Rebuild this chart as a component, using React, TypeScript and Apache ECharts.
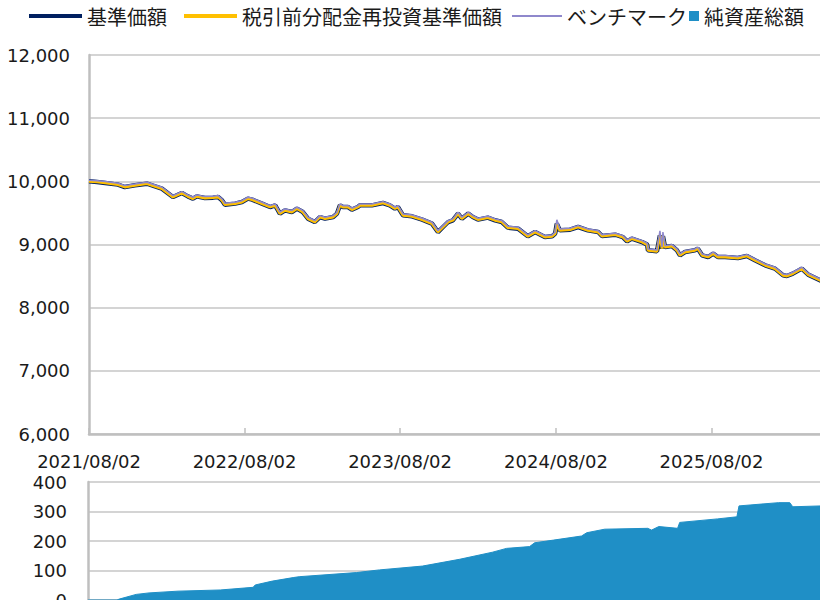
import React, { useEffect, useRef } from 'react';
import * as echarts from 'echarts';

// 基準価額 / 税引前分配金再投資基準価額 (same values, no distributions)
const dates = [
  '2021-08-02', '2021-08-21', '2021-09-09', '2021-10-09', '2021-10-25', '2021-11-18', '2021-12-16', '2021-12-28',
  '2022-01-20', '2022-02-15', '2022-03-08', '2022-03-22', '2022-04-03', '2022-04-12', '2022-05-01', '2022-05-20',
  '2022-06-01', '2022-06-10', '2022-06-17', '2022-07-11', '2022-07-27', '2022-08-10', '2022-08-20', '2022-09-12',
  '2022-10-01', '2022-10-13', '2022-10-24', '2022-11-05', '2022-11-21', '2022-12-03', '2022-12-17', '2022-12-29',
  '2023-01-14', '2023-01-26', '2023-02-07', '2023-02-26', '2023-03-07', '2023-03-14', '2023-03-21', '2023-04-02',
  '2023-04-11', '2023-04-25', '2023-04-30', '2023-05-28', '2023-06-23', '2023-07-09', '2023-07-21', '2023-07-28',
  '2023-08-09', '2023-08-30', '2023-09-23', '2023-10-16', '2023-10-30', '2023-11-11', '2023-11-23', '2023-12-04',
  '2023-12-16', '2023-12-25', '2024-01-09', '2024-01-20', '2024-02-01', '2024-02-24', '2024-03-12', '2024-03-28',
  '2024-04-11', '2024-05-05', '2024-05-28', '2024-06-14', '2024-07-07', '2024-07-24', '2024-07-31', '2024-08-04',
  '2024-08-11', '2024-09-04', '2024-09-23', '2024-10-16', '2024-11-09', '2024-11-18', '2024-12-19', '2025-01-06',
  '2025-01-16', '2025-01-27', '2025-02-20', '2025-03-04', '2025-03-06', '2025-03-27', '2025-04-03', '2025-04-08',
  '2025-04-10', '2025-04-15', '2025-05-01', '2025-05-13', '2025-05-20', '2025-06-01', '2025-06-24', '2025-07-01',
  '2025-07-11', '2025-07-25', '2025-08-06', '2025-08-17', '2025-09-03', '2025-10-03', '2025-10-24', '2025-11-12',
  '2025-12-06', '2025-12-29', '2026-01-17', '2026-01-26', '2026-02-09', '2026-03-02', '2026-03-17', '2026-04-18',
];

const navValues = [
  10000, 9990, 9975, 9948, 9910, 9937, 9963, 9937,
  9884, 9751, 9815, 9762, 9726, 9762, 9736, 9742,
  9752, 9700, 9631, 9647, 9672, 9726, 9710, 9647,
  9593, 9620, 9489, 9541, 9514, 9568, 9514, 9409,
  9356, 9435, 9409, 9435, 9489, 9620, 9593, 9593,
  9552, 9593, 9620, 9620, 9657, 9620, 9568, 9593,
  9462, 9446, 9394, 9330, 9197, 9277, 9356, 9383,
  9489, 9409, 9489, 9435, 9394, 9425, 9383, 9356,
  9267, 9251, 9130, 9197, 9118, 9130, 9172, 9330,
  9224, 9235, 9277, 9224, 9197, 9134, 9156, 9118,
  9050, 9093, 9039, 8998, 8908, 8892, 9145, 8935,
  9130, 8960, 8976, 8908, 8829, 8881, 8908, 8935,
  8829, 8802, 8856, 8802, 8802, 8786, 8818, 8750,
  8670, 8618, 8512, 8501, 8539, 8618, 8523, 8420,
];

const benchmarkValues = [
  10018, 10010, 9997, 9970, 9932, 9959, 9985, 9959,
  9906, 9773, 9837, 9784, 9748, 9784, 9758, 9764,
  9774, 9722, 9653, 9669, 9694, 9748, 9732, 9669,
  9615, 9642, 9511, 9563, 9536, 9590, 9536, 9431,
  9378, 9457, 9431, 9457, 9511, 9642, 9615, 9615,
  9574, 9615, 9642, 9642, 9679, 9642, 9590, 9615,
  9484, 9468, 9416, 9352, 9219, 9299, 9378, 9405,
  9511, 9431, 9511, 9457, 9416, 9447, 9405, 9378,
  9289, 9273, 9152, 9219, 9140, 9152, 9194, 9392,
  9246, 9257, 9299, 9246, 9219, 9156, 9178, 9140,
  9072, 9115, 9061, 9020, 8930, 8914, 9217, 8957,
  9197, 8982, 8998, 8930, 8851, 8903, 8930, 8957,
  8851, 8824, 8878, 8824, 8824, 8808, 8840, 8772,
  8692, 8640, 8534, 8523, 8561, 8640, 8545, 8442,
];

// 純資産総額
const aumDates = [
  '2021-08-02', '2021-10-09', '2021-10-14', '2021-11-23', '2021-12-23', '2022-03-01', '2022-06-08', '2022-08-24',
  '2022-08-29', '2022-10-08', '2022-11-26', '2022-12-10', '2023-04-23', '2023-06-16', '2023-09-25', '2023-12-21',
  '2024-03-07', '2024-04-09', '2024-06-02', '2024-06-14', '2024-07-28', '2024-10-02', '2024-10-14', '2024-11-25',
  '2025-03-06', '2025-03-15', '2025-04-01', '2025-05-15', '2025-05-20', '2025-08-17', '2025-10-01', '2025-10-06',
  '2026-01-07', '2026-02-02', '2026-02-09', '2026-04-18',
];
const aumValues = [
  0, 0, 3, 19, 24, 30, 34, 43,
  51, 64, 76, 79, 93, 102, 115, 138,
  162, 175, 181, 194, 203, 217, 228, 240,
  243, 237, 249, 243, 263, 275, 282, 319,
  330, 330, 316, 319,
];

const xTickDates = ['2021-08-02', '2022-08-02', '2023-08-02', '2024-08-02', '2025-08-02'];
const xRange = ['2021-08-02', '2026-08-02'];

const legendNames = ['基準価額', '税引前分配金再投資基準価額', 'ベンチマーク', '純資産総額'];
const seriesColors = ['#002060', '#FFC000', '#8f88cc', '#1f8fc6'];

const toTs = (s: string) => {
  const [y, m, d] = s.split('-').map(Number);
  return new Date(y, m - 1, d).getTime();
};

export default function App() {
  const ref = useRef<HTMLDivElement>(null);

  useEffect(() => {
    if (!ref.current) return;
    const chart = echarts.init(ref.current, null, { renderer: 'svg' });
    const tickTs = xTickDates.map(toTs);
    const gridColor = '#c6c6c6';
    const axisColor = '#bfbfbf';
    const labelFont = { fontSize: 18, fontFamily: 'DejaVu Sans', color: '#1a1a1a' };
    const legendText = { fontSize: 20, fontFamily: 'Noto Sans CJK JP', color: '#1a1a1a' };

    const navData = dates.map((d, i) => [toTs(d), navValues[i]]);
    const benchData = dates.map((d, i) => [toTs(d), benchmarkValues[i]]);
    const aumData = aumDates.map((d, i) => [toTs(d), aumValues[i]]);

    const legendItem = (i: number, left: number, w: number, h: number) => ({
      data: [{ name: legendNames[i], icon: 'rect', itemStyle: { color: seriesColors[i] } }],
      left,
      top: 6,
      padding: 0,
      itemWidth: w,
      itemHeight: h,
      itemGap: 0,
      textStyle: legendText,
    });

    const option: any = {
      animation: false,
      backgroundColor: '#ffffff',
      legend: [
        legendItem(0, 29, 53, 4),
        legendItem(1, 184, 53, 4),
        legendItem(2, 512, 50, 2),
        legendItem(3, 689, 10, 10),
      ],
      grid: [
        { left: 89, right: 13, top: 55, height: 379 },
        { left: 88, right: 13, top: 482, height: 118 },
      ],
      xAxis: [
        {
          type: 'time',
          gridIndex: 0,
          min: toTs(xRange[0]),
          max: toTs(xRange[1]),
          axisLine: { show: true, lineStyle: { color: axisColor, width: 2.5 } },
          axisTick: { show: true, inside: true, length: 6, customValues: tickTs, lineStyle: { color: axisColor, width: 1.5 } },
          axisLabel: { ...labelFont, margin: 18, customValues: tickTs, formatter: '{yyyy}/{MM}/{dd}', hideOverlap: false },
          splitLine: { show: false },
        },
        {
          type: 'time',
          gridIndex: 1,
          min: toTs(xRange[0]),
          max: toTs(xRange[1]),
          axisLine: { show: true, lineStyle: { color: axisColor, width: 2.5 } },
          axisTick: { show: false },
          axisLabel: { show: false },
          splitLine: { show: false },
        },
      ],
      yAxis: [
        {
          type: 'value',
          gridIndex: 0,
          min: 6000,
          max: 12000,
          interval: 1000,
          axisLine: { show: true, lineStyle: { color: axisColor, width: 2.5 } },
          axisTick: { show: false },
          axisLabel: { ...labelFont, margin: 19, formatter: (v: number) => v.toLocaleString('en-US') },
          splitLine: { show: true, lineStyle: { color: gridColor, width: 1.5 } },
        },
        {
          type: 'value',
          gridIndex: 1,
          min: 0,
          max: 400,
          interval: 100,
          axisLine: { show: true, lineStyle: { color: axisColor, width: 2.5 } },
          axisTick: { show: false },
          axisLabel: { ...labelFont, margin: 21 },
          splitLine: { show: true, lineStyle: { color: gridColor, width: 1.5 } },
        },
      ],
      series: [
        {
          name: legendNames[0],
          type: 'line',
          xAxisIndex: 0,
          yAxisIndex: 0,
          data: navData,
          symbol: 'none',
          lineStyle: { color: seriesColors[0], width: 4.5 },
          itemStyle: { color: seriesColors[0] },
          z: 2,
        },
        {
          name: legendNames[1],
          type: 'line',
          xAxisIndex: 0,
          yAxisIndex: 0,
          data: navData,
          symbol: 'none',
          lineStyle: { color: seriesColors[1], width: 2.8 },
          itemStyle: { color: seriesColors[1] },
          z: 3,
        },
        {
          name: legendNames[2],
          type: 'line',
          xAxisIndex: 0,
          yAxisIndex: 0,
          data: benchData,
          symbol: 'none',
          lineStyle: { color: seriesColors[2], width: 1.5 },
          itemStyle: { color: seriesColors[2] },
          z: 4,
        },
        {
          name: legendNames[3],
          type: 'line',
          xAxisIndex: 1,
          yAxisIndex: 1,
          data: aumData,
          symbol: 'none',
          lineStyle: { color: seriesColors[3], width: 1 },
          itemStyle: { color: seriesColors[3] },
          areaStyle: { color: seriesColors[3], opacity: 1 },
        },
      ],
    };
    chart.setOption(option);
    return () => chart.dispose();
  }, []);

  return (
    <div style={{ position: 'fixed', left: 0, top: 0, width: 820, height: 600, overflow: 'hidden', background: '#fff' }}>
      <div ref={ref} style={{ width: 880, height: 640 }} />
    </div>
  );
}
